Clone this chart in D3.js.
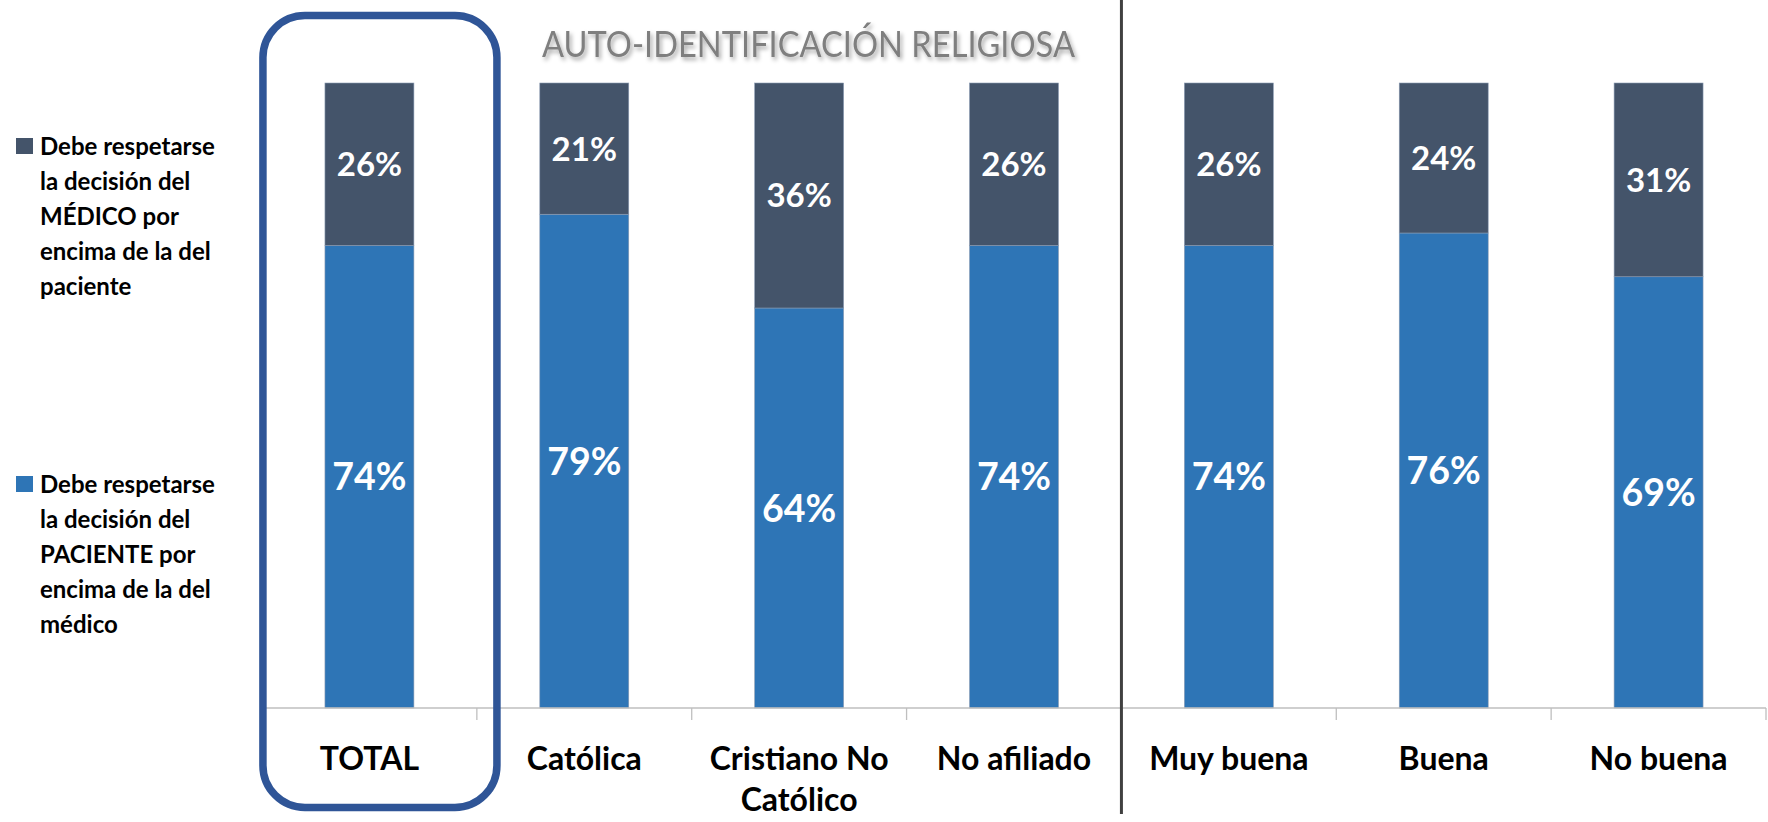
<!DOCTYPE html>
<html>
<head>
<meta charset="utf-8">
<script src="https://cdn.jsdelivr.net/npm/d3@7"></script>
<style>
  html, body { margin: 0; padding: 0; background: #fff; }
  svg { display: block; font-family: Lato, "Open Sans", sans-serif; }
</style>
</head>
<body>
<svg id="chart" width="1768" height="822"></svg>
<script>
// categories along the x axis (TOTAL + religion + the last three groups)
var categories = ["TOTAL", "Católica", "Cristiano No Católico", "No afiliado", "Muy buena", "Buena", "No buena"];
// share that says the patient's decision should be respected (bottom, blue)
var paciente = [74, 79, 64, 74, 74, 76, 69];
// share that says the doctor's decision should be respected (top, dark)
var medico = [26, 21, 36, 26, 26, 24, 31];

var seriesKeys = ["paciente", "medico"];
// legend text, broken the way the original breaks it
var legendMedico = ["Debe respetarse", "la decisión del", "MÉDICO por", "encima de la del", "paciente"];
var legendPaciente = ["Debe respetarse", "la decisión del", "PACIENTE por", "encima de la del", "médico"];
var titleText = "AUTO-IDENTIFICACIÓN RELIGIOSA";

var colors = {paciente: "#2E75B6", medico: "#44546A"};

var rows = categories.map((c, i) => ({cat: c, paciente: paciente[i], medico: medico[i]}));

var svg = d3.select("#chart"),
    margin = {top: 83, left: 262, bottom: 114, right: 2},
    width = +svg.attr("width"),
    height = +svg.attr("height");

// shadow for the section title
var defs = svg.append("defs");
defs.append("filter").attr("id", "shadow")
    .attr("x", "-5%").attr("y", "-30%").attr("width", "110%").attr("height", "180%")
    .append("feDropShadow")
    .attr("dx", 2).attr("dy", 3).attr("stdDeviation", 2.2)
    .attr("flood-color", "#000").attr("flood-opacity", 0.35);

// paddingOuter = paddingInner / 2 keeps the step equal to width / n
var x = d3.scaleBand()
    .domain(categories)
    .range([margin.left, width - margin.right])
    .paddingInner(0.586)
    .paddingOuter(0.293);

var y = d3.scaleLinear()
    .domain([0, 100])
    .range([height - margin.bottom, margin.top]);

var stacked = d3.stack().keys(seriesKeys)(rows);

// bars
var layers = svg.append("g").selectAll("g.layer")
    .data(stacked)
    .join("g")
    .attr("class", "layer")
    .attr("fill", d => colors[d.key]);

layers.selectAll("rect")
    .data(d => d)
    .join("rect")
    .attr("x", d => x(d.data.cat))
    .attr("y", d => y(d[1]))
    .attr("width", x.bandwidth())
    .attr("height", d => y(d[0]) - y(d[1]))
    .attr("stroke", "#8a9bb3")
    .attr("stroke-width", 0.6);

// data labels, centred in each segment
layers.selectAll("text")
    .data(d => d.map(p => Object.assign({key: d.key}, p)))
    .join("text")
    .attr("x", d => x(d.data.cat) + x.bandwidth() / 2)
    .attr("y", d => (y(d[0]) + y(d[1])) / 2)
    .attr("dy", "0.36em")
    .attr("text-anchor", "middle")
    .attr("fill", "#fff")
    .attr("font-weight", 700)
    .attr("font-size", d => d.key === "paciente" ? 37.5 : 33)
    .text(d => (d[1] - d[0]) + "%");

// x axis: plain gray line with ticks at the band edges
var step = x.step();
var gap = (step - x.bandwidth()) / 2;
var edges = categories.map(c => x(c) - gap).concat([x(categories[categories.length - 1]) + x.bandwidth() + gap]);
var xAxis = svg.append("g")
    .attr("transform", `translate(0,${y(0)})`);
xAxis.append("line")
    .attr("x1", margin.left).attr("x2", width - margin.right)
    .attr("stroke", "#bfbfbf").attr("stroke-width", 1.3);
xAxis.selectAll("line.tick")
    .data(edges)
    .join("line")
    .attr("class", "tick")
    .attr("x1", d => d).attr("x2", d => d)
    .attr("y1", 0).attr("y2", 12)
    .attr("stroke", "#bfbfbf").attr("stroke-width", 1.3);

// category labels, wrapped when wider than the band
svg.append("g").selectAll("text")
    .data(categories)
    .join("text")
    .attr("x", d => x(d) + x.bandwidth() / 2)
    .attr("y", 770)
    .attr("text-anchor", "middle")
    .attr("font-weight", 700)
    .attr("font-size", 32)
    .attr("fill", "#000")
    .each(function(d) { wrap(d3.select(this), d, 205, 41); });

function wrap(sel, str, maxW, lineH) {
    var words = str.split(" "), line = [];
    var cx = sel.attr("x");
    var tspan = sel.text(null).append("tspan").attr("x", cx);
    words.forEach(function(w) {
        line.push(w);
        tspan.text(line.join(" "));
        if (tspan.node().getComputedTextLength() > maxW && line.length > 1) {
            line.pop();
            tspan.text(line.join(" "));
            line = [w];
            tspan = sel.append("tspan").attr("x", cx).attr("dy", lineH).text(w);
        }
    });
}

// legend on the left (top entry = top series)
var legend = svg.append("g");
var legendBlocks = [
    {key: "medico", lines: legendMedico, y0: 155},
    {key: "paciente", lines: legendPaciente, y0: 493}
];
legendBlocks.forEach(function(b) {
    legend.append("rect")
        .attr("x", 16).attr("y", b.y0 - 17)
        .attr("width", 17).attr("height", 16)
        .attr("fill", colors[b.key]);
    legend.append("text")
        .attr("y", b.y0)
        .attr("font-weight", 700).attr("font-size", 24).attr("fill", "#000")
        .selectAll("tspan")
        .data(b.lines)
        .join("tspan")
        .attr("x", 40)
        .attr("dy", (d, i) => i === 0 ? 0 : 35)
        .text(d => d);
});

// separator between the two groups of categories
var sepX = edges[4];
svg.append("line")
    .attr("x1", sepX).attr("x2", sepX)
    .attr("y1", 0).attr("y2", 814)
    .attr("stroke", "#404040").attr("stroke-width", 3);

// rounded frame around the TOTAL column
var tx = x("TOTAL") + x.bandwidth() / 2;
svg.append("rect")
    .attr("x", tx - 106.5).attr("y", 15.5)
    .attr("width", 234).attr("height", 792)
    .attr("rx", 42).attr("ry", 42)
    .attr("fill", "none")
    .attr("stroke", "#2F5597")
    .attr("stroke-width", 7.5);

// title of the religion section
svg.append("text")
    .attr("x", 542).attr("y", 57)
    .attr("font-size", 37.5)
    .attr("fill", "#7f7f7f")
    .attr("textLength", 533)
    .attr("lengthAdjust", "spacingAndGlyphs")
    .attr("filter", "url(#shadow)")
    .text(titleText);
</script>
</body>
</html>
